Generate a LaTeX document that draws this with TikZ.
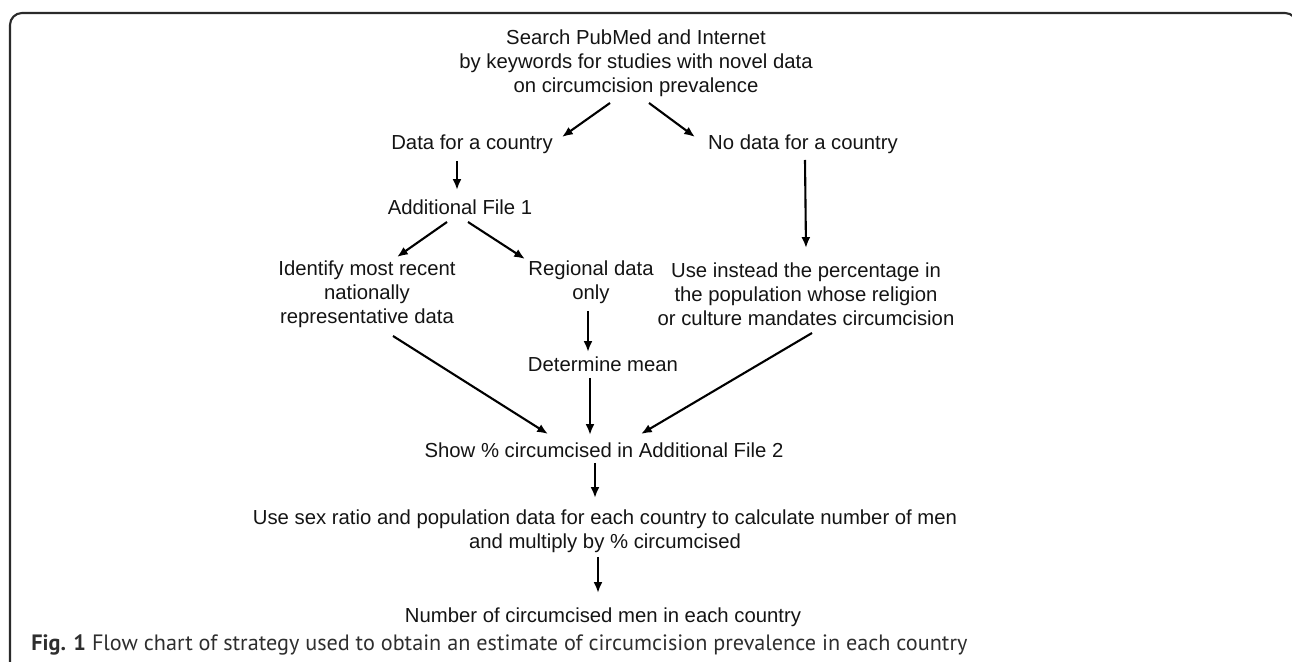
\documentclass[tikz,border=0pt]{standalone}
\usepackage{fontspec}
\setmainfont{Liberation Sans}
\newfontfamily\capfont{PT Sans}
\usetikzlibrary{arrows.meta}
\definecolor{txt}{HTML}{141414}
\definecolor{frame}{HTML}{2A2A2A}
\definecolor{captxt}{HTML}{2E2E2E}
\begin{document}
\begin{tikzpicture}[x=0.5pt,y=-0.5pt,
  lbl/.style={inner sep=0pt, align=center, text=txt, font=\fontsize{10.15pt}{12pt}\selectfont},
  arr/.style={line width=1.05pt, draw=black, -{Latex[length=5.4pt,width=4.4pt]}},
  capstyle/.style={inner sep=0pt, anchor=west, text=captxt, font=\capfont\fontsize{11.1pt}{13pt}\selectfont}
]
\useasboundingbox (0,0) rectangle (1292,662);
\clip (0,0) rectangle (1292,662);
\draw[line width=1.05pt, draw=frame, rounded corners=6pt] (10,720) -- (10,13) -- (1297,13) -- (1297,720);

\node[lbl] (search) at (636,63) {Search PubMed and Internet\\by keywords for studies with novel data\\on circumcision prevalence};
\node[lbl] (data) at (472,144) {Data for a country};
\node[lbl] (nodata) at (803,144) {No data for a country};
\node[lbl] (add1) at (460,207) {Additional File 1};
\node[lbl] (identify) at (367,294) {Identify most recent\\nationally\\representative data};
\node[lbl] (regional) at (591,282) {Regional data\\only};
\node[lbl] (determine) at (603,364) {Determine mean};
\node[lbl] (useinstead) at (806,294) {Use instead the percentage in\\the population whose religion\\or culture mandates circumcision};
\node[lbl] (show) at (604,450) {Show \% circumcised in Additional File 2};
\node[lbl] (usesex) at (605,531) {Use sex ratio and population data for each country to calculate number of men\\and multiply by \% circumcised};
\node[lbl] (number) at (603,617) {Number of circumcised men in each country};
\node[capstyle] (caption) at (31,645) {{\bfseries Fig. 1} Flow chart of strategy used to obtain an estimate of circumcision prevalence in each country};

\draw[arr] ([shift={(-26,40)}]search.center) -- ([shift={(90,-7)}]data.center);
\draw[arr] ([shift={(13,40)}]search.center) -- ([shift={(-108,-7)}]nodata.center);
\draw[arr] ([shift={(-15,17)}]data.center) -- ([shift={(-3,-17)}]add1.center);
\draw[arr] ([shift={(-13,15)}]add1.center) -- ([shift={(30,-37)}]identify.center);
\draw[arr] ([shift={(8,15)}]add1.center) -- ([shift={(-66,-23)}]regional.center);
\draw[arr] ([shift={(-3,29)}]regional.center) -- ([shift={(-15,-12)}]determine.center);
\draw[arr] ([shift={(2,16)}]nodata.center) -- ([shift={(0,-46)}]useinstead.center);
\draw[arr] ([shift={(26,42)}]identify.center) -- ([shift={(-56,-16)}]show.center);
\draw[arr] ([shift={(-13,14)}]determine.center) -- ([shift={(-14,-15)}]show.center);
\draw[arr] ([shift={(6,39)}]useinstead.center) -- ([shift={(37,-16)}]show.center);
\draw[arr] ([shift={(-9,13)}]show.center) -- ([shift={(-10,-33)}]usesex.center);
\draw[arr] ([shift={(-7,26)}]usesex.center) -- ([shift={(-5,-24)}]number.center);
\end{tikzpicture}
\end{document}
